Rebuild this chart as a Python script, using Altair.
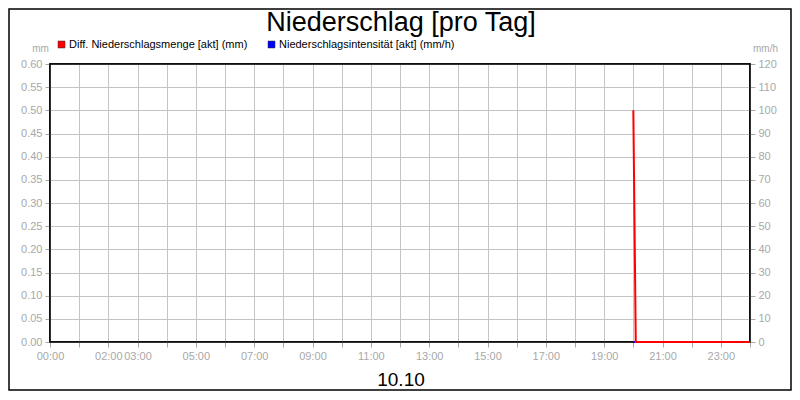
import altair as alt
import pandas as pd

# data
times = ["20:00", "20:05", "24:00"]
menge = [0.5, 0.0, 0.0]          # Diff. Niederschlagsmenge [akt] (mm)
intensitaet = [0.0, 0.0, 0.0]    # Niederschlagsintensität [akt] (mm/h)
label_hours = [0, 2, 3, 5, 7, 9, 11, 13, 15, 17, 19, 21, 23]
mm_ticks = [0.0, 0.05, 0.1, 0.15, 0.2, 0.25, 0.3, 0.35, 0.4, 0.45, 0.5, 0.55, 0.6]
mmh_ticks = [0, 10, 20, 30, 40, 50, 60, 70, 80, 90, 100, 110, 120]
title_text = "Niederschlag [pro Tag]"
date_text = "10.10"
legend_names = ["Diff. Niederschlagsmenge [akt] (mm)", "Niederschlagsintensität [akt] (mm/h)"]
legend_colors = ["#ff0000", "#0000ff"]


def to_h(t):
    h, m = t.split(":")
    return int(h) + int(m) / 60


df = pd.DataFrame({
    "h": [to_h(t) for t in times],
    "menge": menge,
    "int": intensitaet,
})

W, H = 700, 278
GRAY = "#a8a8a8"
GRID = "#c4c4c4"
FONT = "Liberation Sans"

xenc = alt.X(
    "h:Q",
    scale=alt.Scale(domain=[0, 24], nice=False),
    axis=alt.Axis(
        values=list(range(25)),
        labelExpr="indexof(" + str(label_hours) + ", datum.value) >= 0 ? (datum.value < 10 ? '0' : '') + datum.value + ':00' : ''",
        title=None, grid=True, gridColor=GRID, domain=False,
        tickColor=GRAY, tickSize=5, labelColor=GRAY, labelFont=FONT, labelFontSize=11,
        labelPadding=3, labelFlush=False, labelOverlap=False,
    ),
)

blue = alt.Chart(df).mark_line(color="#0000ff", strokeWidth=2).encode(
    x=xenc,
    y=alt.Y(
        "int:Q",
        scale=alt.Scale(domain=[0, 120], nice=False),
        axis=alt.Axis(
            orient="right", values=mmh_ticks, grid=False, domain=False,
            tickColor=GRAY, tickSize=5, labelColor=GRAY, labelFont=FONT, labelFontSize=11,
            labelPadding=3, title="mm/h", titleAngle=0, titleColor=GRAY, titleFont=FONT,
            titleFontSize=10, titleFontWeight="normal", titleX=15, titleY=-16,
            titleAlign="center", titleBaseline="middle",
        ),
    ),
)

red = alt.Chart(df).mark_line(color="#ff0000", strokeWidth=2).encode(
    x=xenc,
    y=alt.Y(
        "menge:Q",
        scale=alt.Scale(domain=[0, 0.6], nice=False),
        axis=alt.Axis(
            orient="left", values=mm_ticks, format=".2f",
            grid=True, gridColor=GRID, domain=False,
            tickColor=GRAY, tickSize=5, labelColor=GRAY, labelFont=FONT, labelFontSize=11,
            labelPadding=3, title="mm", titleAngle=0, titleColor=GRAY, titleFont=FONT,
            titleFontSize=10, titleFontWeight="normal", titleX=-10, titleY=-16,
            titleAlign="center", titleBaseline="middle",
        ),
    ),
)

# decorations (pixel positioned)
deco_df = pd.DataFrame({"k": [0]})
base = alt.Chart(deco_df)

frame = base.mark_rect(fill=None, stroke="black", strokeWidth=1.5).encode(
    x=alt.value(0), x2=alt.value(W), y=alt.value(0), y2=alt.value(H))

lines = alt.layer(frame, blue, red).resolve_scale(y="independent")

title = base.mark_text(fontSize=27, font=FONT, color="black", baseline="alphabetic", align="center").encode(
    x=alt.value(351), y=alt.value(31 - 64), text=alt.value(title_text))
date = base.mark_text(fontSize=19, font=FONT, color="black", baseline="alphabetic", align="center").encode(
    x=alt.value(351), y=alt.value(386 - 64), text=alt.value(date_text))

leg_sq1 = base.mark_rect(color=legend_colors[0], stroke="#333333", strokeWidth=0.5).encode(
    x=alt.value(58 - 50), x2=alt.value(65 - 50), y=alt.value(41 - 64), y2=alt.value(48 - 64))
leg_tx1 = base.mark_text(fontSize=11, font=FONT, color="black", align="left", baseline="middle").encode(
    x=alt.value(69 - 50), y=alt.value(44.5 - 64), text=alt.value(legend_names[0]))
leg_sq2 = base.mark_rect(color=legend_colors[1], stroke="#333333", strokeWidth=0.5).encode(
    x=alt.value(268 - 50), x2=alt.value(275 - 50), y=alt.value(41 - 64), y2=alt.value(48 - 64))
leg_tx2 = base.mark_text(fontSize=11, font=FONT, color="black", align="left", baseline="middle").encode(
    x=alt.value(279 - 50), y=alt.value(44.5 - 64), text=alt.value(legend_names[1]))

border = base.mark_rect(fill=None, stroke="black", strokeWidth=1.5).encode(
    x=alt.value(-41), x2=alt.value(741), y=alt.value(-55), y2=alt.value(326))

chart = alt.layer(
    lines, title, date, leg_sq1, leg_tx1, leg_sq2, leg_tx2, border
).properties(
    width=W, height=H,
    autosize=alt.AutoSizeParams(type="none"),
    padding={"left": 42, "top": 56, "right": 42, "bottom": 50},
    background="white",
).configure_view(
    stroke="black", strokeWidth=1.5,
)

chart.save("out.html", embed_options={"renderer": "svg", "actions": False})
